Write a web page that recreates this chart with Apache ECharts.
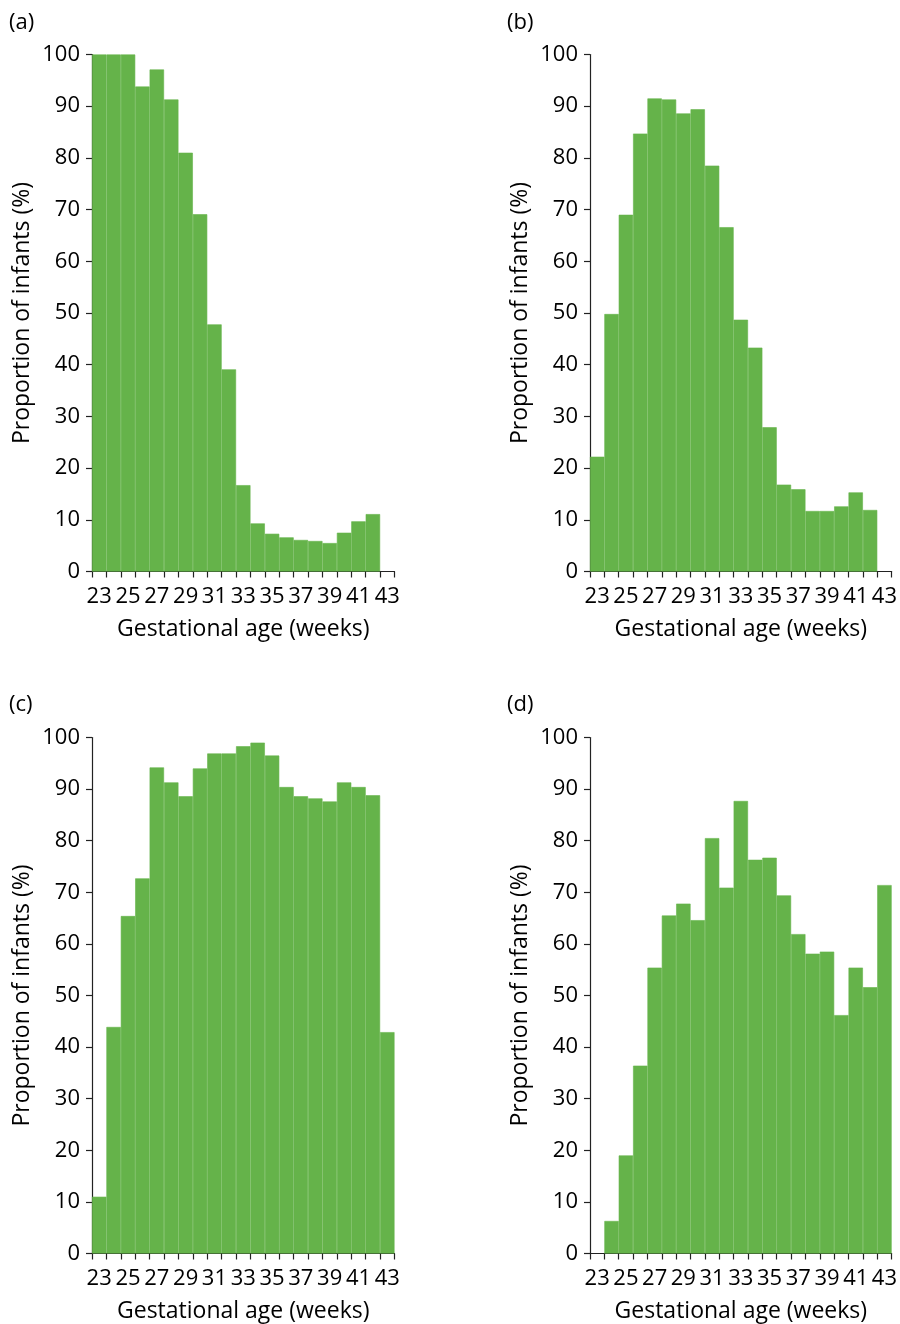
<!DOCTYPE html>
<html>
<head>
<meta charset="utf-8">
<script src="https://cdn.jsdelivr.net/npm/echarts@6/dist/echarts.min.js"></script>
<style>
html,body{margin:0;padding:0;background:#fff;}
#chart{width:900px;height:1324px;}
</style>
</head>
<body>
<div id="chart"></div>
<script>
const weeks = ['23','24','25','26','27','28','29','30','31','32','33','34','35','36','37','38','39','40','41','42','43'];
const panelA = [100,100,100,93.8,97.1,91.3,81.0,69.1,47.8,39.1,16.7,9.3,7.3,6.6,6.1,5.9,5.5,7.5,9.7,11.1,null];
const panelB = [22.2,49.8,69.0,84.7,91.5,91.3,88.6,89.4,78.5,66.6,48.7,43.3,27.9,16.8,15.9,11.7,11.7,12.6,15.3,11.9,null];
const panelC = [11.0,43.9,65.4,72.7,94.2,91.3,88.6,94.0,96.9,96.9,98.3,99.0,96.5,90.4,88.6,88.2,87.6,91.3,90.4,88.8,42.9];
const panelD = [null,6.3,19.0,36.4,55.4,65.5,67.8,64.6,80.5,70.9,87.7,76.3,76.7,69.4,61.9,58.1,58.5,46.2,55.4,51.6,71.4];
const panelLabels = ['(a)','(b)','(c)','(d)'];
const yTitle = 'Proportion of infants (%)';
const xTitle = 'Gestational age (weeks)';

const FONT = '"Open Sans", "Noto Sans", sans-serif';
const TXT = '#000';
const GREEN = '#65b34a';
const FS = 22;
const FT = 23;
const panels = [panelA, panelB, panelC, panelD];
const gridPos = [
  {left: 92, top: 54.5, width: 302.5, height: 517},
  {left: 590, top: 54.5, width: 302.5, height: 517},
  {left: 92, top: 737.5, width: 302.5, height: 516},
  {left: 590, top: 737.5, width: 302.5, height: 516}
];
const labelPos = [[9, 12], [507, 12], [9, 694], [507, 694]];

const option = {
  animation: false,
  backgroundColor: '#fff',
  textStyle: {fontFamily: FONT},
  title: panelLabels.map((t, i) => ({
    text: t, left: labelPos[i][0], top: labelPos[i][1], padding: 0,
    textStyle: {fontFamily: FONT, fontSize: FS, fontWeight: 'normal', color: TXT}
  })),
  grid: gridPos.map(g => Object.assign({containLabel: false}, g)),
  xAxis: panels.map((p, i) => ({
    type: 'category', gridIndex: i, data: weeks, boundaryGap: true,
    name: xTitle, nameLocation: 'middle', nameGap: 46,
    nameTextStyle: {fontFamily: FONT, fontSize: FT, color: TXT},
    axisLine: {show: true, lineStyle: {color: '#222', width: 1.2}},
    axisTick: {show: true, interval: 0, alignWithLabel: false, length: 6, lineStyle: {color: '#222', width: 1.2}},
    axisLabel: {interval: 1, margin: 14, fontFamily: FONT, fontSize: FS, color: TXT},
    splitLine: {show: false}
  })),
  yAxis: panels.map((p, i) => ({
    type: 'value', gridIndex: i, min: 0, max: 100, interval: 10,
    name: yTitle, nameLocation: 'middle', nameGap: 58,
    nameTextStyle: {fontFamily: FONT, fontSize: FT, color: TXT},
    axisLine: {show: true, lineStyle: {color: '#222', width: 1.2}},
    axisTick: {show: true, length: 6, lineStyle: {color: '#222', width: 1.2}},
    axisLabel: {margin: 12, fontFamily: FONT, fontSize: FS, color: TXT},
    splitLine: {show: false}
  })),
  series: panels.map((p, i) => ({
    type: 'bar', xAxisIndex: i, yAxisIndex: i, data: p,
    barWidth: '100%', barCategoryGap: '0%',
    itemStyle: {color: GREEN, borderColor: GREEN, borderWidth: 0.6},
    emphasis: {disabled: true}
  }))
};

const chart = echarts.init(document.getElementById('chart'), null, {renderer: 'canvas'});
chart.setOption(option);
</script>
</body>
</html>
